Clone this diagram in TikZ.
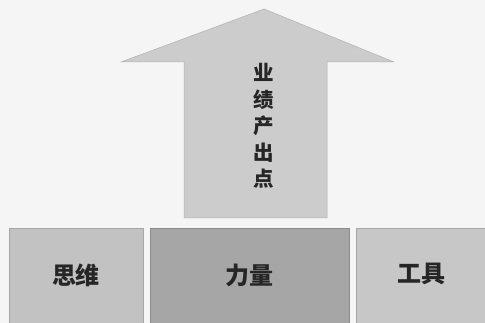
\documentclass[tikz,border=0pt]{standalone}
\usepackage{fontspec}
\newfontfamily\cjk{Noto Sans CJK SC}
\begin{document}
\begin{tikzpicture}[x=1pt,y=-1pt,
  lbl/.style={font=\cjk\bfseries\fontsize{24}{24}\selectfont, text=black!85}]
\useasboundingbox[fill=black!4] (0,0) rectangle (485,323);
% arrow
\path[fill=black!20, draw=black!30, line width=0.5pt]
  (264,9) -- (394,62) -- (327,62) -- (327,218) -- (184,218) -- (184,62) -- (121,62) -- cycle;
\node[align=center, text=black!85, font=\cjk\bfseries\fontsize{20.5}{26.5}\selectfont] (arrowtext) at (264,126) {业\\绩\\产\\出\\点};
% boxes
\path[fill=black!24, draw=black!35] (9,228) rectangle (143,323);
\path[fill=black!35, draw=black!45] (150,228) rectangle (349,323);
\path[fill=black!22, draw=black!35] (356,228) rectangle (485,323);
\node[lbl] (siwei) at (76,275) {思维};
\node[lbl] (liliang) at (249,275) {力量};
\node[lbl] (gongju) at (421,274) {工具};
\end{tikzpicture}
\end{document}
